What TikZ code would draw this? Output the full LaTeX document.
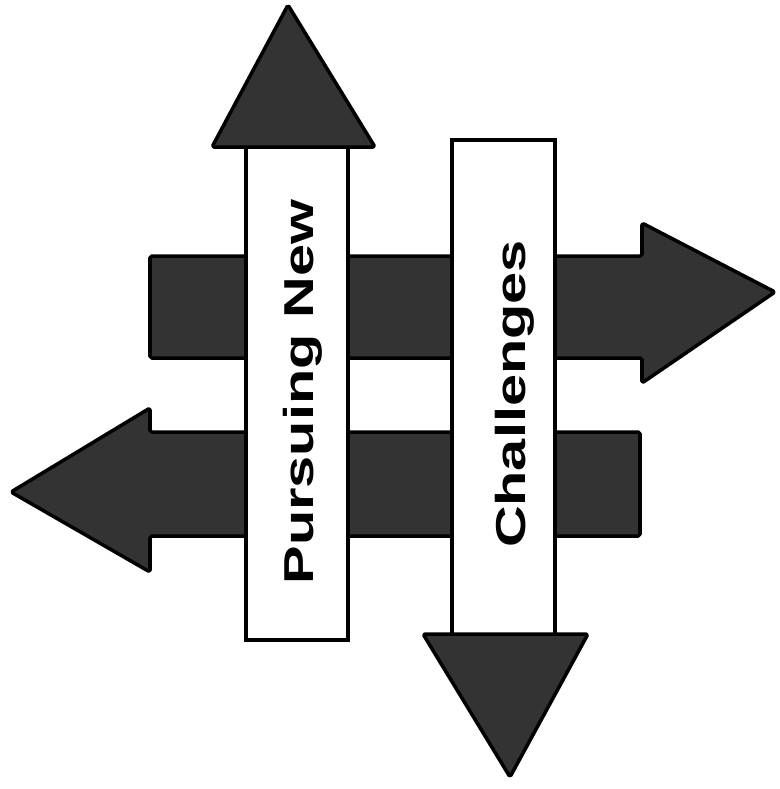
\documentclass[tikz,border=0pt]{standalone}
\usepackage{fontspec}
\newfontfamily\signfont{Liberation Sans}

\begin{document}
\begin{tikzpicture}[
    x=0.02cm, y=-0.02cm,
    head/.style={draw=black, line width=2pt, fill=black!80, line join=round, rounded corners=1pt},
    shaft/.style={draw=black, line width=2pt, fill=white},
    signtext/.style={font=\signfont\bfseries\fontsize{23.8}{28}\selectfont, inner sep=0pt, rotate=90, anchor=base}
]
    \useasboundingbox (0,0) rectangle (779,789);
    % horizontal arrows, behind
    \draw[head] (150,256) -- (642,256) -- (642,223) -- (775,292) -- (642,383) -- (642,358) -- (150,358) -- cycle;
    \draw[head] (640,432) -- (150,432) -- (150,408) -- (11,492) -- (150,572) -- (150,536) -- (640,536) -- cycle;
    % vertical arrows
    \draw[shaft] (246,145) rectangle (348,640);
    \draw[head] (212,147) -- (288,5) -- (375,147) -- cycle;
    \draw[shaft] (452,140) rectangle (555,636);
    \draw[head] (423,634) -- (510,777) -- (588,634) -- cycle;

    \node[signtext] (pursuing) at (313,392) {\scalebox{1.38}[1]{Pursuing New}};
    \node[signtext] (challenges) at (525,394) {\scalebox{1.38}[1]{Challenges}};
\end{tikzpicture}
\end{document}
